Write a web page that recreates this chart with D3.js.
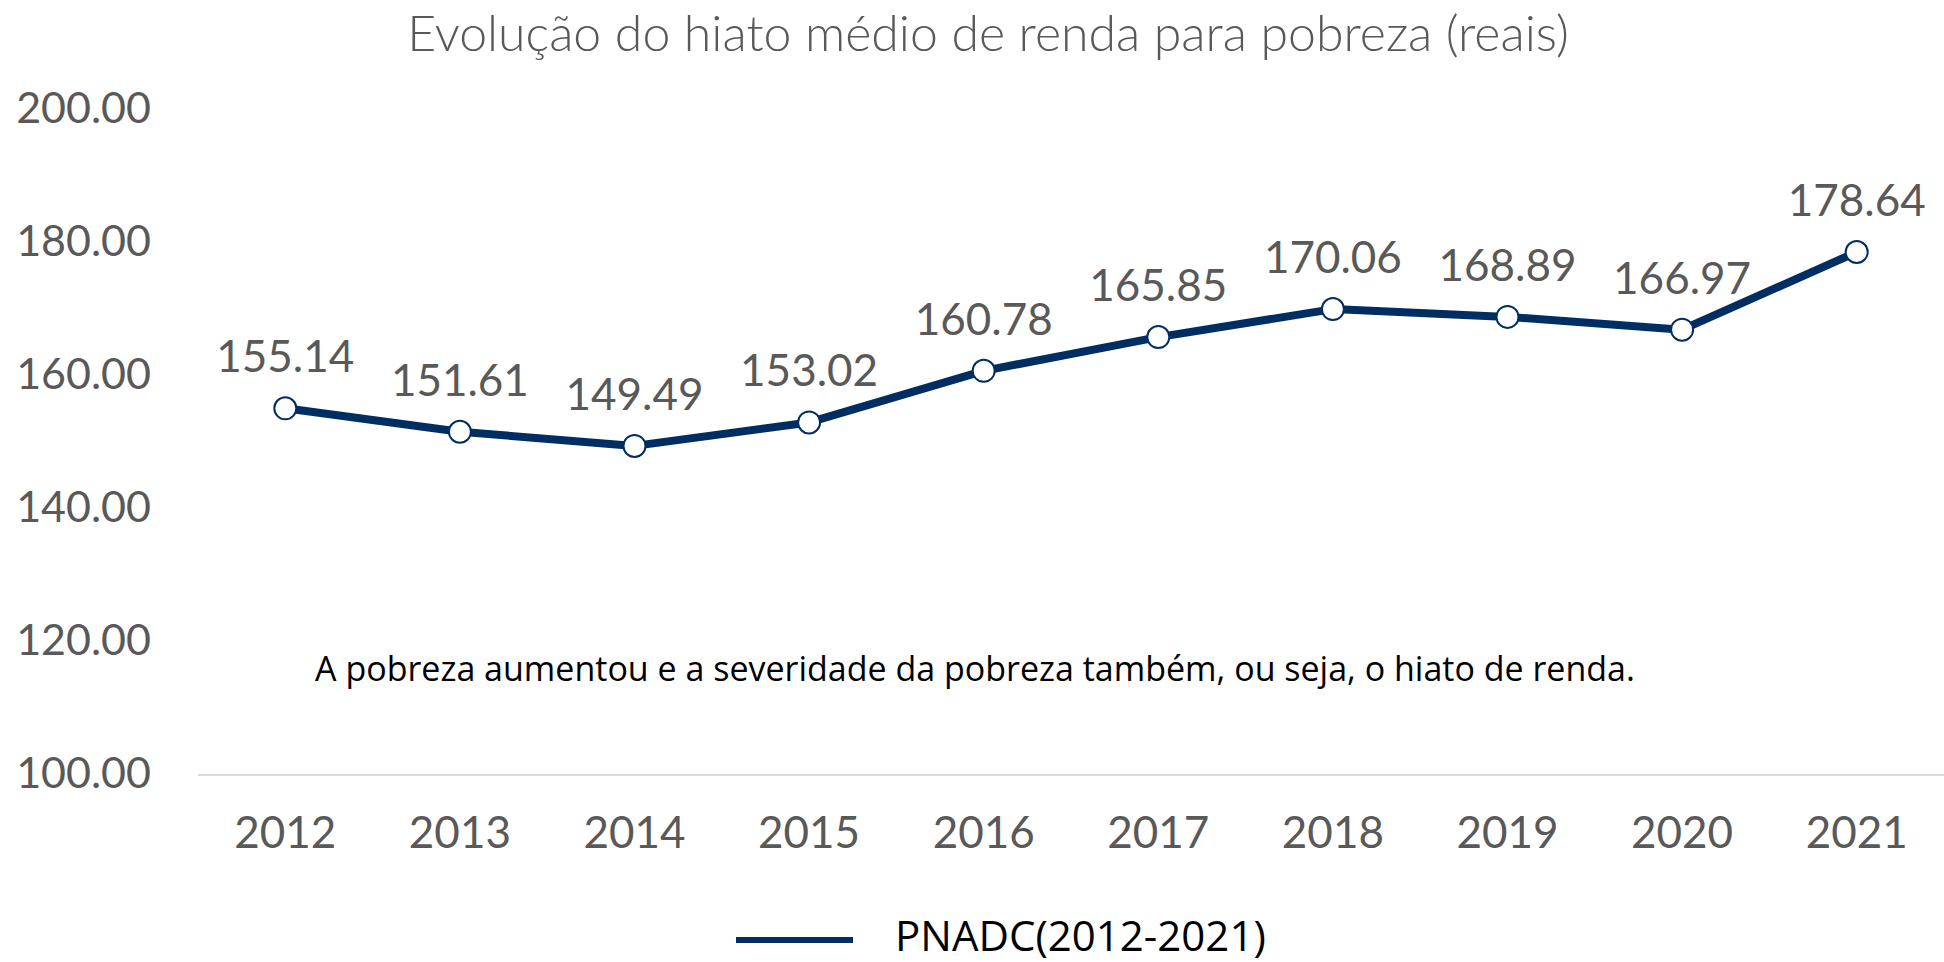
<!DOCTYPE html>
<html>
<head>
<meta charset="utf-8">
<script src="https://cdn.jsdelivr.net/npm/d3@7"></script>
<style>
  body { margin: 0; background: #fff; }
  svg text { font-family: Lato, "Open Sans", sans-serif; }
</style>
</head>
<body>
<div id="chart"></div>
<script>
const w = 1944;
const h = 962;

const years = ["2012", "2013", "2014", "2015", "2016", "2017", "2018", "2019", "2020", "2021"];
const gap = [155.14, 151.61, 149.49, 153.02, 160.78, 165.85, 170.06, 168.89, 166.97, 178.64];
const yTicks = [100, 120, 140, 160, 180, 200];

const title = "Evolução do hiato médio de renda para pobreza (reais)";
const note = "A pobreza aumentou e a severidade da pobreza também, ou seja, o hiato de renda.";
const seriesName = "PNADC(2012-2021)";

const navy = "#002d62";
const grey = "#595959";

const svg = d3.select("#chart")
              .append("svg")
              .attr("width", w)
              .attr("height", h);

const xScale = d3.scaleBand()
                 .domain(years)
                 .range([198, 1944]);

const yScale = d3.scaleLinear()
                 .domain([100, 200])
                 .range([775, 110]);

// baseline only, no other gridlines
svg.append("line")
   .attr("x1", 198)
   .attr("x2", 1944)
   .attr("y1", yScale(100))
   .attr("y2", yScale(100))
   .attr("stroke", "#d9d9d9")
   .attr("stroke-width", 2);

// y axis labels
const yAxis = d3.axisLeft(yScale)
                .tickValues(yTicks)
                .tickFormat(d3.format(".2f"))
                .tickSize(0)
                .tickPadding(0);

const yG = svg.append("g")
   .attr("transform", "translate(151, 0)")
   .call(yAxis);
yG.select(".domain").remove();
yG.selectAll("text")
  .attr("fill", grey)
  .attr("dy", "0.3em")
  .style("font-size", "43px");

// x axis labels
const xAxis = d3.axisBottom(xScale)
                .tickSize(0)
                .tickPadding(0);

const xG = svg.append("g")
   .attr("transform", "translate(0, 817)")
   .call(xAxis);
xG.select(".domain").remove();
xG.selectAll("text")
  .attr("fill", grey)
  .style("font-size", "44px");

const cx = d => xScale(d) + xScale.bandwidth() / 2;

const line = d3.line()
               .x((d, i) => cx(years[i]))
               .y(d => yScale(d));

svg.append("path")
   .datum(gap)
   .attr("d", line)
   .attr("fill", "none")
   .attr("stroke", navy)
   .attr("stroke-width", 8)
   .attr("stroke-linejoin", "round");

svg.selectAll("circle")
   .data(gap)
   .enter()
   .append("circle")
   .attr("cx", (d, i) => cx(years[i]))
   .attr("cy", d => yScale(d))
   .attr("r", 11)
   .attr("fill", "#fff")
   .attr("stroke", navy)
   .attr("stroke-width", 2);

// value labels
svg.selectAll(".val")
   .data(gap)
   .enter()
   .append("text")
   .attr("class", "val")
   .attr("x", (d, i) => cx(years[i]))
   .attr("y", d => yScale(d) - 36)
   .attr("text-anchor", "middle")
   .attr("fill", grey)
   .style("font-size", "44px")
   .text(d => d.toFixed(2));

// title
svg.append("text")
   .attr("x", 988)
   .attr("y", 51)
   .attr("text-anchor", "middle")
   .attr("fill", grey)
   .style("font-size", "50px")
   .style("font-weight", 300)
   .text(title);

// note inside the plot
svg.append("text")
   .attr("x", 975)
   .attr("y", 681)
   .attr("text-anchor", "middle")
   .attr("fill", "#000")
   .style("font-family", "'Open Sans', sans-serif")
   .style("font-size", "34px")
   .text(note);

// legend
svg.append("line")
   .attr("x1", 736)
   .attr("x2", 853)
   .attr("y1", 940)
   .attr("y2", 940)
   .attr("stroke", navy)
   .attr("stroke-width", 6);

svg.append("text")
   .attr("x", 895)
   .attr("y", 951)
   .attr("fill", "#000")
   .style("font-family", "'Open Sans', sans-serif")
   .style("font-size", "42px")
   .text(seriesName);
</script>
</body>
</html>
